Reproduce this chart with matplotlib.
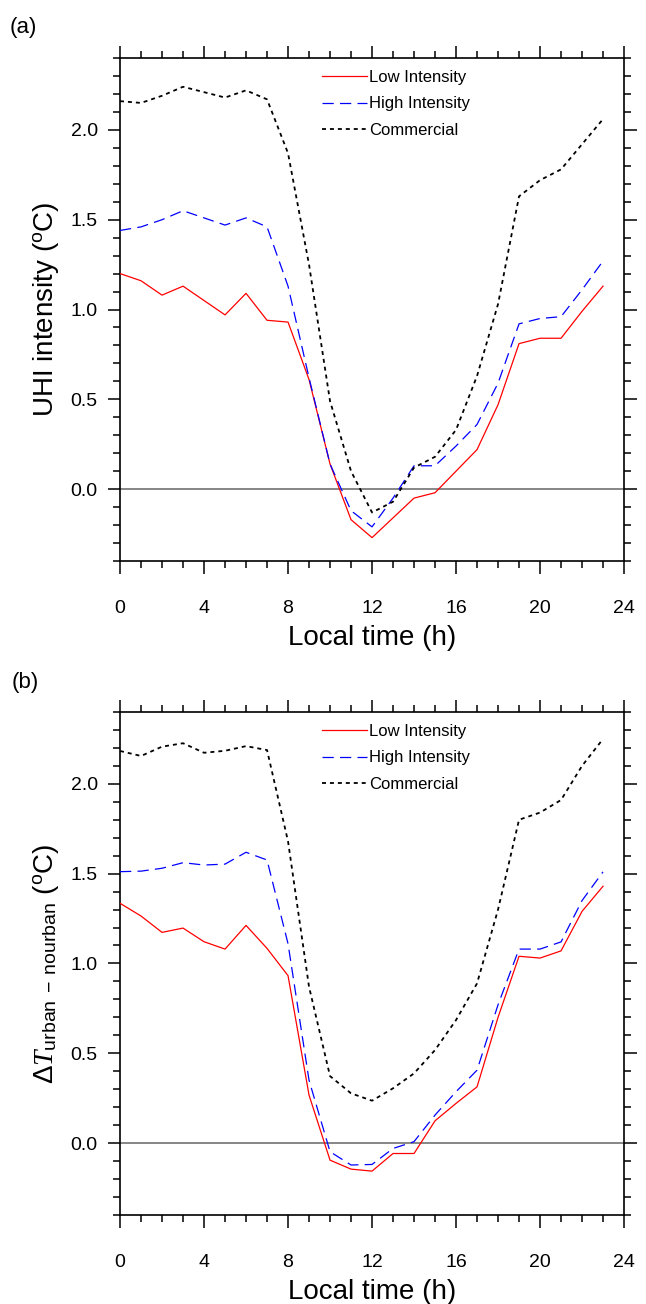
import matplotlib
matplotlib.use("Agg")
import matplotlib.pyplot as plt
from matplotlib.ticker import MultipleLocator

plt.rcParams['font.family'] = ['Liberation Sans', 'DejaVu Sans']
plt.rcParams['mathtext.fontset'] = 'custom'
plt.rcParams['mathtext.rm'] = 'Liberation Sans'
plt.rcParams['mathtext.sf'] = 'Liberation Sans'
plt.rcParams['mathtext.it'] = 'Liberation Serif:italic'

hours = list(range(24))
series_names = ["Low Intensity", "High Intensity", "Commercial"]

a_low = [1.20, 1.16, 1.08, 1.13, 1.05, 0.97, 1.09, 0.94, 0.93, 0.61, 0.14, -0.17,
         -0.27, -0.16, -0.05, -0.02, 0.10, 0.22, 0.47, 0.81, 0.84, 0.84, 0.99, 1.13]
a_high = [1.44, 1.46, 1.50, 1.55, 1.51, 1.47, 1.51, 1.46, 1.13, 0.62, 0.14, -0.12,
          -0.21, -0.05, 0.13, 0.13, 0.24, 0.36, 0.59, 0.92, 0.95, 0.96, 1.11, 1.27]
a_com = [2.16, 2.15, 2.19, 2.24, 2.21, 2.18, 2.22, 2.17, 1.87, 1.25, 0.49, 0.10,
         -0.13, -0.07, 0.12, 0.18, 0.33, 0.63, 1.03, 1.63, 1.72, 1.78, 1.92, 2.06]

b_low = [1.335, 1.264, 1.173, 1.197, 1.121, 1.08, 1.212, 1.084, 0.932, 0.267, -0.095, -0.145,
         -0.156, -0.058, -0.058, 0.124, 0.221, 0.313, 0.70, 1.04, 1.03, 1.07, 1.29, 1.43]
b_high = [1.511, 1.514, 1.53, 1.561, 1.548, 1.553, 1.619, 1.576, 1.11, 0.35, -0.048, -0.122,
          -0.119, -0.03, 0.008, 0.156, 0.286, 0.406, 0.77, 1.08, 1.08, 1.12, 1.35, 1.51]
b_com = [2.183, 2.155, 2.207, 2.226, 2.173, 2.184, 2.21, 2.188, 1.68, 0.87, 0.373, 0.277,
         0.236, 0.305, 0.388, 0.518, 0.685, 0.889, 1.30, 1.80, 1.84, 1.91, 2.10, 2.25]

x_ticks = [0, 4, 8, 12, 16, 20, 24]
y_ticks = [0.0, 0.5, 1.0, 1.5, 2.0]

fig = plt.figure(figsize=(6.46, 13.04), dpi=100)
ax1 = fig.add_axes([0.1858, 0.5698, 0.7802, 0.3857])
ax2 = fig.add_axes([0.1858, 0.0683, 0.7802, 0.3857])


def style(ax, low, high, com, ylabel):
    ax.axhline(0, color='0.4', lw=1.1, zorder=1)
    ax.plot(hours, low, color='#ff0000', lw=0.9, label=series_names[0], zorder=3)
    ax.plot(hours, high, color='#0000ff', lw=0.9, dashes=(9, 5), label=series_names[1], zorder=3)
    ax.plot(hours, com, color='black', lw=1.3, dashes=(2.2, 2.2), label=series_names[2], zorder=3)
    ax.set_xlim(0, 24)
    ax.set_ylim(-0.4, 2.4)
    ax.set_xticks(x_ticks)
    ax.set_xticklabels([str(t) for t in x_ticks])
    ax.set_yticks(y_ticks)
    ax.set_yticklabels([f"{t:.1f}" for t in y_ticks])
    ax.xaxis.set_minor_locator(MultipleLocator(1))
    ax.yaxis.set_minor_locator(MultipleLocator(0.1))
    ax.tick_params(which='both', direction='out', top=True, right=True,
                   width=1.1, labelsize=14, colors='black')
    ax.tick_params(which='major', length=9)
    ax.tick_params(which='minor', length=5)
    ax.tick_params(axis='x', which='major', pad=19)
    ax.tick_params(axis='y', which='major', pad=7)
    for s in ax.spines.values():
        s.set_linewidth(1.2)
    ax.set_xlabel("Local time (h)", fontsize=20, labelpad=6)
    ax.set_ylabel(ylabel, fontsize=20, labelpad=7)
    ax.legend(loc='upper left', bbox_to_anchor=(0.401, 0.976), frameon=False,
              fontsize=12, handlelength=2.7, handletextpad=0.1,
              borderpad=0, borderaxespad=0, labelspacing=0.68)


style(ax1, a_low, a_high, a_com, r'UHI intensity ($^{\mathrm{o}}$C)')
style(ax2, b_low, b_high, b_com,
      r'$\Delta \mathit{T}_{\mathrm{urban\ -\ nourban}}$ ($^{\mathrm{o}}$C)')

fig.text(0.015, 0.987, "(a)", fontsize=16, va='top', ha='left')
fig.text(0.018, 0.485, "(b)", fontsize=16, va='top', ha='left')

fig.savefig("out.png", dpi=100)
